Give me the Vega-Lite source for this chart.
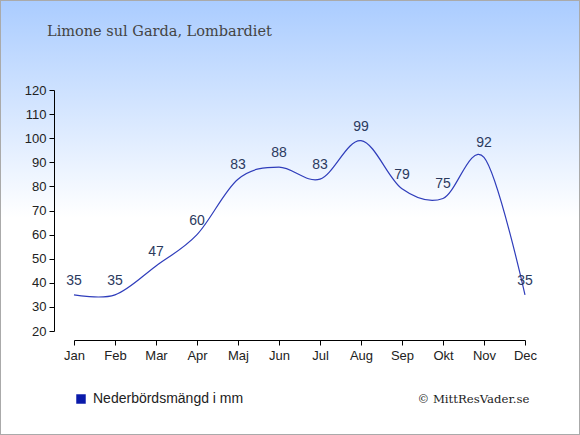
{
  "$schema": "https://vega.github.io/schema/vega-lite/v6.json",
  "autosize": "none",
  "width": 580,
  "height": 435,
  "padding": 0,
  "background": "#ffffff",
  "title": {
    "text": "Limone sul Garda, Lombardiet",
    "anchor": "start",
    "frame": "group",
    "orient": "top",
    "baseline": "top",
    "dx": 47,
    "dy": 39,
    "offset": 0,
    "font": "DejaVu Serif",
    "fontSize": 14.5,
    "fontWeight": "normal",
    "color": "#444444"
  },
  "config": {
    "view": {
      "stroke": "#aaaaaa",
      "strokeWidth": 2,
      "fill": {
        "gradient": "linear",
        "x1": 0, "y1": 0, "x2": 0, "y2": 1,
        "stops": [
          {"offset": 0, "color": "#aaccff"},
          {"offset": 0.5, "color": "#ffffff"},
          {"offset": 1, "color": "#ffffff"}
        ]
      }
    },
    "axis": {
      "labelFont": "Liberation Sans",
      "labelFontSize": 13,
      "labelColor": "#222222",
      "domainColor": "#000000",
      "tickColor": "#000000",
      "grid": false
    }
  },
  "data": {
    "values": [
      {"month": "Jan", "mm": 35},
      {"month": "Feb", "mm": 35},
      {"month": "Mar", "mm": 47},
      {"month": "Apr", "mm": 60},
      {"month": "Maj", "mm": 83},
      {"month": "Jun", "mm": 88},
      {"month": "Jul", "mm": 83},
      {"month": "Aug", "mm": 99},
      {"month": "Sep", "mm": 79},
      {"month": "Okt", "mm": 75},
      {"month": "Nov", "mm": 92},
      {"month": "Dec", "mm": 35}
    ]
  },
  "encoding": {
    "x": {
      "field": "month",
      "type": "ordinal",
      "sort": null,
      "scale": {"type": "point", "range": [74, 525], "padding": 0},
      "axis": {
        "orient": "bottom",
        "offset": -95,
        "labelAngle": 0,
        "tickSize": 5,
        "labelPadding": 4,
        "title": "© MittResVader.se",
        "titleFont": "DejaVu Serif",
        "titleFontSize": 11.7,
        "titleFontWeight": "normal",
        "titleColor": "#222222",
        "titleAnchor": "start",
        "titleAlign": "left",
        "titleBaseline": "middle",
        "titleX": 417,
        "titleY": 58
      }
    },
    "y": {
      "field": "mm",
      "type": "quantitative",
      "scale": {"domain": [20, 120], "range": [331, 90], "nice": false, "zero": false},
      "axis": {
        "orient": "left",
        "offset": -54,
        "values": [20, 30, 40, 50, 60, 70, 80, 90, 100, 110, 120],
        "tickSize": 5,
        "labelPadding": 3,
        "title": null
      }
    }
  },
  "layer": [
    {
      "mark": {"type": "line", "interpolate": "cardinal", "strokeWidth": 1.2},
      "encoding": {
        "color": {
          "datum": "Nederbördsmängd i mm",
          "type": "nominal",
          "scale": {"range": ["#2f3dbb"]},
          "legend": {
            "orient": "none",
            "legendX": 74,
            "legendY": 392,
            "title": null,
            "symbolType": "square",
            "symbolSize": 90,
            "symbolFillColor": "#0a1aaa",
            "symbolStrokeWidth": 0,
            "labelFont": "Liberation Sans",
            "labelFontSize": 14,
            "labelColor": "#222222",
            "labelOffset": 5
          }
        }
      }
    },
    {
      "mark": {"type": "text", "dy": -14, "font": "Liberation Sans", "fontSize": 14, "color": "#2b3a5e"},
      "encoding": {"text": {"field": "mm", "type": "quantitative"}}
    }
  ]
}
